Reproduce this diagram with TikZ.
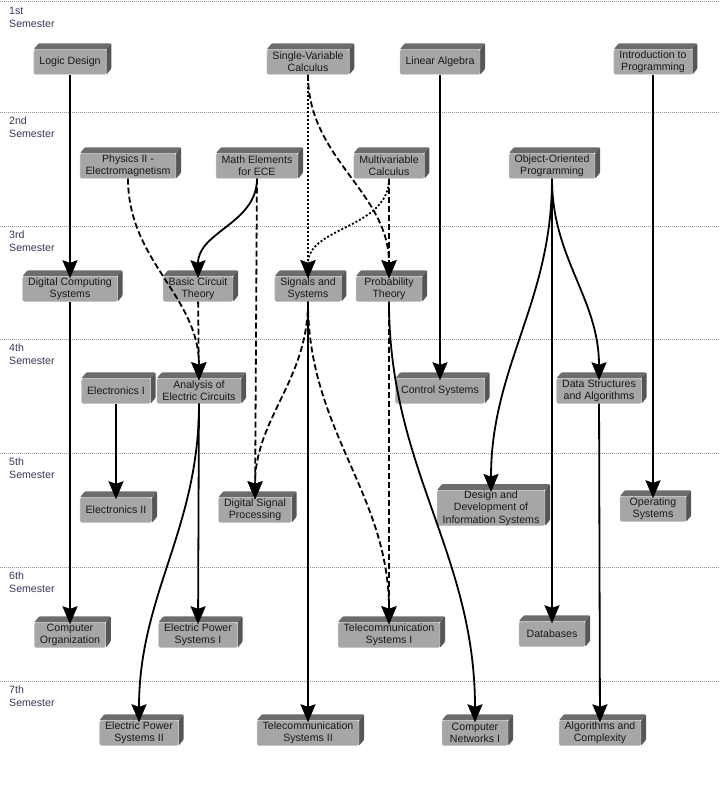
\documentclass[tikz,border=0pt]{standalone}
\usepackage{fontspec}
\setmainfont{Liberation Sans}
\usepackage{tikz}
\usetikzlibrary{arrows.meta}
\definecolor{boxfront}{RGB}{166,166,166}
\definecolor{boxrim}{RGB}{198,198,198}
\definecolor{boxtop}{RGB}{108,108,108}
\definecolor{boxside}{RGB}{86,86,86}
\definecolor{semtext}{RGB}{58,52,88}
\definecolor{semline}{RGB}{150,150,150}
\tikzset{
	coursestyle/.style={rectangle,rounded corners=1.5pt,draw=boxrim,fill=boxfront,
		font=\fontsize{10.6}{12.3}\selectfont,align=center,text=black!90,
		minimum width=66pt,minimum height=25pt,inner xsep=5.5pt,inner ysep=0.5pt,
		append after command={\pgfextra{\pgfinterruptpath
			\fill[boxtop,rounded corners=1pt] (\tikzlastnode.north west) -- ++(5pt,6pt) -- ([shift={(5pt,6pt)}]\tikzlastnode.north east) -- (\tikzlastnode.north east) -- cycle;
			\fill[boxside,rounded corners=1pt] (\tikzlastnode.north east) -- ++(5pt,6pt) -- ([shift={(5pt,6pt)}]\tikzlastnode.south east) -- (\tikzlastnode.south east) -- cycle;
			\endpgfinterruptpath}}},
	semstyle/.style={anchor=north west,align=left,inner sep=0pt,text=semtext,
		font=\fontsize{10.6}{13}\selectfont},
	semlinestyle/.style={semline,line width=0.8pt,dash pattern=on 1pt off 1pt},
	solidedge/.style={line width=1.8pt,-{Stealth[length=18pt,width=15pt,inset=2.5pt]},shorten >=-2pt},
	dashedge/.style={solidedge,dash pattern=on 6pt off 3pt},
	dotedge/.style={solidedge,dash pattern=on 2pt off 2pt}
}
\begin{document}
\begin{tikzpicture}[x=1pt,y=-1pt]
	\useasboundingbox (0,0) rectangle (720,794);
	\draw[semlinestyle] (0,1)--(720,1);
	\draw[semlinestyle] (0,112)--(720,112);
	\draw[semlinestyle] (0,226)--(720,226);
	\draw[semlinestyle] (0,339)--(720,339);
	\draw[semlinestyle] (0,453)--(720,453);
	\draw[semlinestyle] (0,567)--(720,567);
	\draw[semlinestyle] (0,681)--(720,681);
	\node[semstyle] (s1) at (9,7) {1st\\Semester};
	\node[semstyle] (s2) at (9,117) {2nd\\Semester};
	\node[semstyle] (s3) at (9,231) {3rd\\Semester};
	\node[semstyle] (s4) at (9,344) {4th\\Semester};
	\node[semstyle] (s5) at (9,458) {5th\\Semester};
	\node[semstyle] (s6) at (9,572) {6th\\Semester};
	\node[semstyle] (s7) at (9,686) {7th\\Semester};
	\node[coursestyle] (ld) at (70,62) {Logic Design};
	\node[coursestyle] (svc) at (308,62) {Single-Variable\\Calculus};
	\node[coursestyle] (la) at (440,62) {Linear Algebra};
	\node[coursestyle] (ip) at (653,62) {Introduction to\\Programming};
	\node[coursestyle] (phys) at (128,166) {Physics II -\\Electromagnetism};
	\node[coursestyle] (mee) at (257,166) {Math Elements\\for ECE};
	\node[coursestyle] (mvc) at (389,166) {Multivariable\\Calculus};
	\node[coursestyle] (oop) at (552,166) {Object-Oriented\\Programming};
	\node[coursestyle] (dcs) at (70,289) {Digital Computing\\Systems};
	\node[coursestyle] (bct) at (198,289) {Basic Circuit\\Theory};
	\node[coursestyle] (sas) at (308,289) {Signals and\\Systems};
	\node[coursestyle] (pt) at (389,289) {Probability\\Theory};
	\node[coursestyle] (el1) at (116,391) {Electronics I};
	\node[coursestyle] (aec) at (199,391) {Analysis of\\Electric Circuits};
	\node[coursestyle] (cs) at (440,391) {Control Systems};
	\node[coursestyle] (dsa) at (599,391) {Data Structures\\and Algorithms};
	\node[coursestyle] (el2) at (116,510) {Electronics II};
	\node[coursestyle] (dsp) at (255,510) {Digital Signal\\Processing};
	\node[coursestyle] (ddis) at (491,508) {Design and\\Development of\\Information Systems};
	\node[coursestyle] (os) at (653,509) {Operating\\Systems};
	\node[coursestyle] (co) at (70,635) {Computer\\Organization};
	\node[coursestyle] (eps1) at (198,635) {Electric Power\\Systems I};
	\node[coursestyle] (tel1) at (389,635) {Telecommunication\\Systems I};
	\node[coursestyle] (db) at (552,634) {Databases};
	\node[coursestyle] (eps2) at (139,733) {Electric Power\\Systems II};
	\node[coursestyle] (tel2) at (308,733) {Telecommunication\\Systems II};
	\node[coursestyle] (cn1) at (475,733) {Computer\\Networks I};
	\node[coursestyle] (aac) at (600,733) {Algorithms and\\Complexity};
	\draw[solidedge] (ld)--(dcs);
	\draw[solidedge] (dcs)--(co);
	\draw[dotedge] (svc)--(sas);
	\draw[dashedge] (svc) to[out=-90,in=90] (pt);
	\draw[solidedge] (la)--(cs);
	\draw[solidedge] (ip)--(os);
	\draw[dashedge] (phys) to[out=-90,in=90] (aec);
	\draw[solidedge] (mee) to[out=-90,in=90] (bct);
	\draw[dashedge] (mee)--(dsp);
	\draw[dotedge] (mvc) to[out=-90,in=90] (sas);
	\draw[dashedge] (mvc)--(pt);
	\draw[solidedge] (oop) to[out=-90,in=90] (ddis);
	\draw[solidedge] (oop)--(db);
	\draw[solidedge] (oop) to[out=-90,in=90] (dsa);
	\draw[dashedge] (bct)--(aec);
	\draw[dashedge] (sas) to[out=-90,in=90] (dsp);
	\draw[dashedge] (sas) to[out=-90,in=90] (tel1);
	\draw[solidedge] (sas)--(tel2);
	\draw[dashedge] (pt)--(tel1);
	\draw[solidedge] (pt) to[out=-90,in=90] (cn1);
	\draw[solidedge] (el1)--(el2);
	\draw[solidedge] (aec)--(eps1);
	\draw[solidedge] (aec) to[out=-90,in=90] (eps2);
	\draw[solidedge] (dsa)--(aac);
\end{tikzpicture}
\end{document}
